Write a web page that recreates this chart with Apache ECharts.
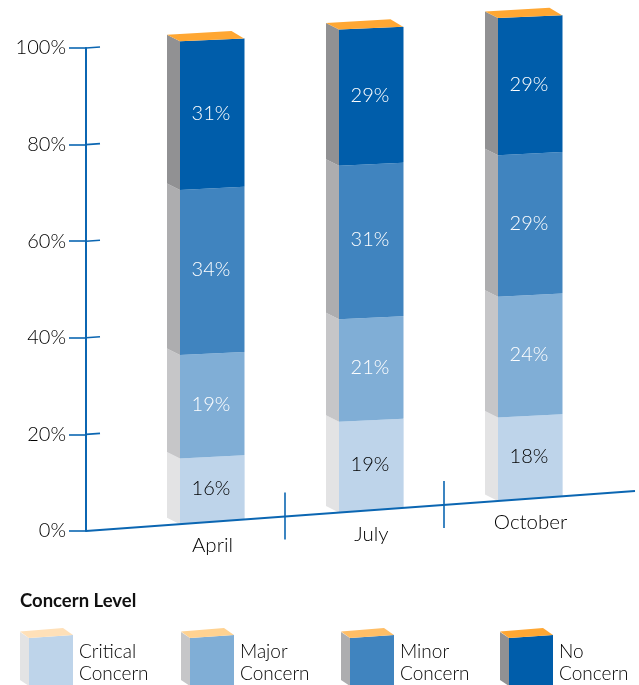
<!DOCTYPE html>
<html>
<head>
<meta charset="utf-8">
<style>html,body{margin:0;padding:0;background:#fff}#chart{width:639px;height:685px}</style>
<script src="https://cdn.jsdelivr.net/npm/echarts@6/dist/echarts.min.js"></script>
</head>
<body>
<div id="chart"></div>
<script>
// ---- data ----
const months = ['April', 'July', 'October'];
const yTicks = [0, 20, 40, 60, 80, 100];
// drawn band heights (percent of axis)
const criticalConcern = [13.6, 18.8, 17.3];
const majorConcern = [21.4, 21.2, 25.0];
const minorConcern = [34.2, 31.8, 29.3];
const noConcern = [30.8, 28.2, 28.4];
// printed labels
const criticalLabels = ['16%', '19%', '18%'];
const majorLabels = ['19%', '21%', '24%'];
const minorLabels = ['34%', '31%', '29%'];
const noLabels = ['31%', '29%', '29%'];
const legendTitle = 'Concern Level';

const levels = [
  { name: 'Critical Concern', values: criticalConcern, labels: criticalLabels, front: '#BED4EA', side: '#E3E3E4', top: '#FFE0B8', edge: '#D6E4F2', text: '#000000' },
  { name: 'Major Concern', values: majorConcern, labels: majorLabels, front: '#80AED6', side: '#C6C6C8', top: '#FFD291', edge: '#BFD6EB', text: '#FFFFFF' },
  { name: 'Minor Concern', values: minorConcern, labels: minorLabels, front: '#4084BF', side: '#ADADAF', top: '#FFBE66', edge: '#A0C2DF', text: '#FFFFFF' },
  { name: 'No Concern', values: noConcern, labels: noLabels, front: '#005DAA', side: '#919193', top: '#FFA733', edge: '#7FAED5', text: '#FFFFFF' }
];

// ---- styling / projection constants ----
const FONT = 'Lato';
const LIGHT = '300 ';
const BLUE = '#0B66B2';
const INK = '#000000';
const SLOPE = 0.0729;      // rise of the floor per pixel
const AXIS_OFFSET = 40;    // y axis sits left of the plot
const ORIGIN_SHIFT = 40;
const RIGHT_RUN = 32;
const HALF_W = 38.5;
const DEPTH_X = 13;
const DEPTH_Y = 6.5;
const FACE_W = 64;

function floorLift(x, coordSys) {
  return SLOPE * (x - (coordSys.x - ORIGIN_SHIFT));
}
function faceDrop(v) { return v <= 0 ? 4.5 : (v >= 99 ? 2.7 : 3.1); }

function segmentRenderer(level, levelIndex) {
  return function (params, api) {
    const cat = api.value(0);
    const from = api.value(1);
    const to = api.value(2);
    const cs = params.coordSys;
    const cx = api.coord([cat, 0])[0];
    const xl = cx - HALF_W + DEPTH_X;
    const xr = xl + FACE_W;
    const lift = floorLift(xl, cs);
    const yAt = function (v) { return api.coord([cat, v])[1] - lift; };
    const y0 = yAt(from), y1 = yAt(to);
    const d0 = faceDrop(from), d1 = faceDrop(to);
    const children = [
      { type: 'polygon', shape: { points: [[xl - DEPTH_X, y1 - DEPTH_Y], [xl, y1], [xl, y0], [xl - DEPTH_X, y0 - DEPTH_Y]] }, style: { fill: level.side } },
      { type: 'polygon', shape: { points: [[xl, y1], [xr, y1 - d1], [xr, y0 - d0], [xl, y0]] }, style: { fill: level.front } },
      { type: 'line', shape: { x1: xr + 0.5, y1: y1 - d1, x2: xr + 0.5, y2: y0 - d0 }, style: { stroke: level.edge, lineWidth: 1 } }
    ];
    if (levelIndex === levels.length - 1) {
      children.push({ type: 'polygon', shape: { points: [[xl, y1], [xl - DEPTH_X, y1 - DEPTH_Y], [xr - 12.5, y1 - d1 - 7.5], [xr, y1 - d1]] }, style: { fill: level.top } });
    }
    children.push({
      type: 'text',
      style: {
        x: xl + FACE_W / 2 - 1, y: (y0 + y1 - d0 / 2 - d1 / 2) / 2 - 1,
        text: level.labels[cat], fill: level.text, font: LIGHT + '20px ' + FONT,
        textAlign: 'center', textVerticalAlign: 'middle'
      }
    });
    return { type: 'group', children: children };
  };
}

const barSeries = levels.map(function (level, li) {
  const data = months.map(function (m, i) {
    let base = 0;
    for (let k = 0; k < li; k++) base += levels[k].values[i];
    return [i, base, base + level.values[i]];
  });
  return {
    type: 'custom', name: level.name, coordinateSystem: 'cartesian2d',
    data: data, encode: { x: 0, y: [1, 2] }, renderItem: segmentRenderer(level, li), z: 3, silent: true
  };
});

// floor axis: slanted line, separators and month names
const floorSeries = {
  type: 'custom', name: 'Months', coordinateSystem: 'cartesian2d',
  data: months.map(function (m, i) { return [i, 0]; }),
  encode: { x: 0, y: 1 }, z: 4, silent: true,
  renderItem: function (params, api) {
    const cat = api.value(0);
    const cs = params.coordSys;
    const band = api.size([1, 0])[0];
    const p = api.coord([cat, 0]);
    const children = [];
    if (cat === 0) {
      const x0 = cs.x - ORIGIN_SHIFT, x1 = cs.x + cs.width + RIGHT_RUN;
      children.push({ type: 'line', shape: { x1: x0, y1: p[1], x2: x1, y2: p[1] - floorLift(x1, cs) }, style: { stroke: BLUE, lineWidth: 2 } });
    }
    if (cat < months.length - 1) {
      const sx = p[0] + band / 2;
      const sy = p[1] - floorLift(sx, cs);
      children.push({ type: 'line', shape: { x1: sx, y1: sy - 24, x2: sx, y2: sy + 23 }, style: { stroke: BLUE, lineWidth: 1.6 } });
    }
    const lx = p[0] + 7;
    children.push({
      type: 'text',
      style: {
        x: lx, y: p[1] - floorLift(lx, cs) + 24,
        text: months[cat], fill: INK, font: LIGHT + '20.5px ' + FONT,
        textAlign: 'center', textVerticalAlign: 'middle'
      }
    });
    return { type: 'group', children: children };
  }
};

// inner half of the y ticks, which turn along the floor's direction
const tickSeries = {
  type: 'custom', name: 'Ticks', coordinateSystem: 'cartesian2d',
  data: yTicks.filter(function (t) { return t > 0; }).map(function (t) { return [0, t]; }),
  encode: { x: 0, y: 1 }, z: 2, silent: true,
  renderItem: function (params, api) {
    const y = api.coord([0, api.value(1)])[1];
    const x = params.coordSys.x - AXIS_OFFSET;
    return { type: 'line', shape: { x1: x, y1: y, x2: x + 14, y2: y - 1 }, style: { stroke: BLUE, lineWidth: 1.6 } };
  }
};

// legend cubes
const legendGraphics = [{
  type: 'text', left: 20, top: 592,
  style: { text: legendTitle, fill: '#111', font: 'bold 18.5px ' + FONT }
}];
const legendX = [20, 181, 341, 500];
levels.forEach(function (level, i) {
  const x = legendX[i];
  legendGraphics.push({
    type: 'polygon', shape: { points: [[x, 632], [x + 9, 638], [x + 9, 686], [x, 680]] }, style: { fill: level.side }, silent: true
  });
  legendGraphics.push({
    type: 'polygon', shape: { points: [[x + 9, 638], [x + 53, 635], [x + 53, 686], [x + 9, 686]] }, style: { fill: level.front }, silent: true
  });
  legendGraphics.push({
    type: 'polygon', shape: { points: [[x, 631.5], [x + 43, 628], [x + 53, 635], [x + 9, 638]] }, style: { fill: level.top }, silent: true
  });
  const parts = level.name.split(' ');
  legendGraphics.push({
    type: 'text', left: x + 59, top: 641,
    style: { text: parts[0] + '\n' + parts[1], fill: INK, font: LIGHT + '19px ' + FONT, lineHeight: 22 }, silent: true
  });
});

const chart = echarts.init(document.getElementById('chart'), null, { renderer: 'canvas' });
chart.setOption({
  animation: false,
  backgroundColor: '#fff',
  grid: { left: 126, top: 48, width: 477, height: 483 },
  xAxis: { type: 'category', data: months, show: false, boundaryGap: true },
  yAxis: {
    type: 'value', min: 0, max: 100, interval: 20, offset: AXIS_OFFSET,
    splitLine: { show: false },
    axisLine: { show: true, lineStyle: { color: BLUE, width: 2 } },
    axisTick: { show: true, length: 17, lineStyle: { color: BLUE, width: 1.6 } },
    axisLabel: { formatter: '{value}%', color: INK, fontFamily: FONT, fontWeight: 300, fontSize: 20, margin: 20, padding: [2, 0, 0, 0] }
  },
  graphic: legendGraphics,
  series: [tickSeries].concat(barSeries, [floorSeries])
});
</script>
</body>
</html>
